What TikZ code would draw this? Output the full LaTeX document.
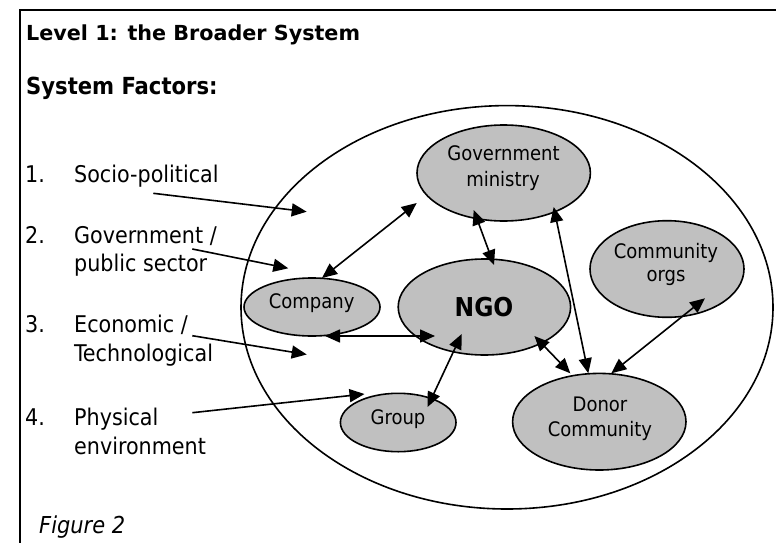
\documentclass[tikz,border=0pt]{standalone}
\usepackage{fontspec}
\setmainfont{DejaVu Sans}
\newfontfamily\condfont{DejaVu Sans Condensed}[BoldFont={DejaVu Sans Condensed Bold},ItalicFont={DejaVu Sans Condensed Oblique}]
\usetikzlibrary{arrows.meta,shapes.geometric}
\definecolor{bubble}{RGB}{192,192,192}

\begin{document}
\begin{tikzpicture}[x=1pt,y=-1pt,
  frameline/.style={line width=2pt},
  ring/.style={ellipse, draw, line width=1.6pt, inner sep=0pt, outer sep=0pt},
  actor/.style={ellipse, draw, fill=bubble, line width=1.6pt, inner sep=0pt, outer sep=0pt},
  lbl/.style={inner sep=0pt, anchor=base, font=\condfont\fontsize{20}{24}\selectfont},
  item/.style={inner sep=0pt, anchor=base west, font=\condfont\fontsize{23}{28}\selectfont},
  link/.style={line width=1.6pt, {Triangle[length=15pt,width=13pt]}-{Triangle[length=15pt,width=13pt]}},
  push/.style={line width=1.6pt, -{Triangle[length=15pt,width=13pt]}}
]
\useasboundingbox (0,0) rectangle (776,543);
\fill[white] (0,0) rectangle (776,543);

% frame: top rule and left rule
\draw[frameline] (20,560) -- (20,10) -- (800,10);

% headings
\node[inner sep=0pt, anchor=base west, font=\bfseries\fontsize{20.7}{25}\selectfont] (title) at (26,41) {Level 1: the Broader System};
\node[inner sep=0pt, anchor=base west, font=\condfont\bfseries\fontsize{23.5}{28}\selectfont] (factors) at (26,94.3) {System Factors:};

% list of system factors
\node[item] (n1) at (25,182) {1.};
\node[item] (t1) at (74,182) {Socio-political};
\node[item] (n2) at (25,243.3) {2.};
\node[item] (t2a) at (74,243.3) {Government /};
\node[item] (t2b) at (74,271.7) {public sector};
\node[item] (n3) at (25,332.7) {3.};
\node[item] (t3a) at (74,332.7) {Economic /};
\node[item] (t3b) at (74,361) {Technological};
\node[item] (n4) at (25,425) {4.};
\node[item] (t4a) at (74,425) {Physical};
\node[item] (t4b) at (74,454) {environment};

\node[inner sep=0pt, anchor=base west, font=\condfont\itshape\fontsize{23.3}{28}\selectfont] (fig) at (39,533.3) {Figure 2};

% the broader system
\node[ring, minimum width=532pt, minimum height=403.4pt] (sys) at (507,307.3) {};

% actors
\node[actor, minimum width=173.4pt, minimum height=96pt] (gov) at (503.7,173) {};
\node[actor, minimum width=154pt, minimum height=96.6pt] (comm) at (667,269) {};
\node[actor, minimum width=136pt, minimum height=58pt] (company) at (312,307) {};
\node[actor, minimum width=172.4pt, minimum height=96pt] (ngo) at (484.4,307) {};
\node[actor, minimum width=115.6pt, minimum height=58.4pt] (group) at (398.2,422.5) {};
\node[actor, minimum width=173.4pt, minimum height=96.6pt] (donor) at (599.3,421.7) {};

% actor labels
\node[lbl] (govA) at (503.5,160.7) {Government};
\node[lbl] (govB) at (503,186.7) {ministry};
\node[lbl] (commA) at (666,258.3) {Community};
\node[lbl] (commB) at (666,281.7) {orgs};
\node[lbl] (companyA) at (311.7,308.3) {Company};
\node[lbl] (groupA) at (398,424) {Group};
\node[lbl] (donorA) at (600,411) {Donor};
\node[lbl] (donorB) at (600,436) {Community};
\node[inner sep=0pt, anchor=base, font=\condfont\bfseries\fontsize{26}{30}\selectfont] (ngoA) at (484,316.7) {NGO};

% relations between actors
\draw[link] ([shift={(10,-29)}]company.center) -- ([shift={(-87,30)}]gov.center);
\draw[link] ([shift={(-30,37)}]gov.center) -- ([shift={(9.6,-42)}]ngo.center);
\draw[link] ([shift={(50,34)}]gov.center) -- ([shift={(-11,-48.4)}]donor.center);
\draw[link] ([shift={(38,29.3)}]comm.center) -- ([shift={(12,-48.4)}]donor.center);
\draw[link] ([shift={(50,29)}]ngo.center) -- ([shift={(-29,-48.4)}]donor.center);
\draw[link] ([shift={(13,29)}]company.center) -- ([shift={(-49.4,29)}]ngo.center);
\draw[link] ([shift={(-22.7,27)}]ngo.center) -- ([shift={(29.3,-15.5)}]group.center);

% influences of the system factors
\coordinate (f1s) at (153.3,193.3);
\coordinate (f1e) at (306.7,211.7);
\coordinate (f2s) at (192.3,249);
\coordinate (f2e) at (288.3,268.3);
\coordinate (f3s) at (192.3,335.7);
\coordinate (f3e) at (306.7,354.5);
\coordinate (f4s) at (192.3,412.7);
\draw[push] (f1s) -- (f1e);
\draw[push] (f2s) -- (f2e);
\draw[push] (f3s) -- (f3e);
\draw[push] (f4s) -- ([shift={(-33.7,-28.5)}]group.center);
\end{tikzpicture}
\end{document}
